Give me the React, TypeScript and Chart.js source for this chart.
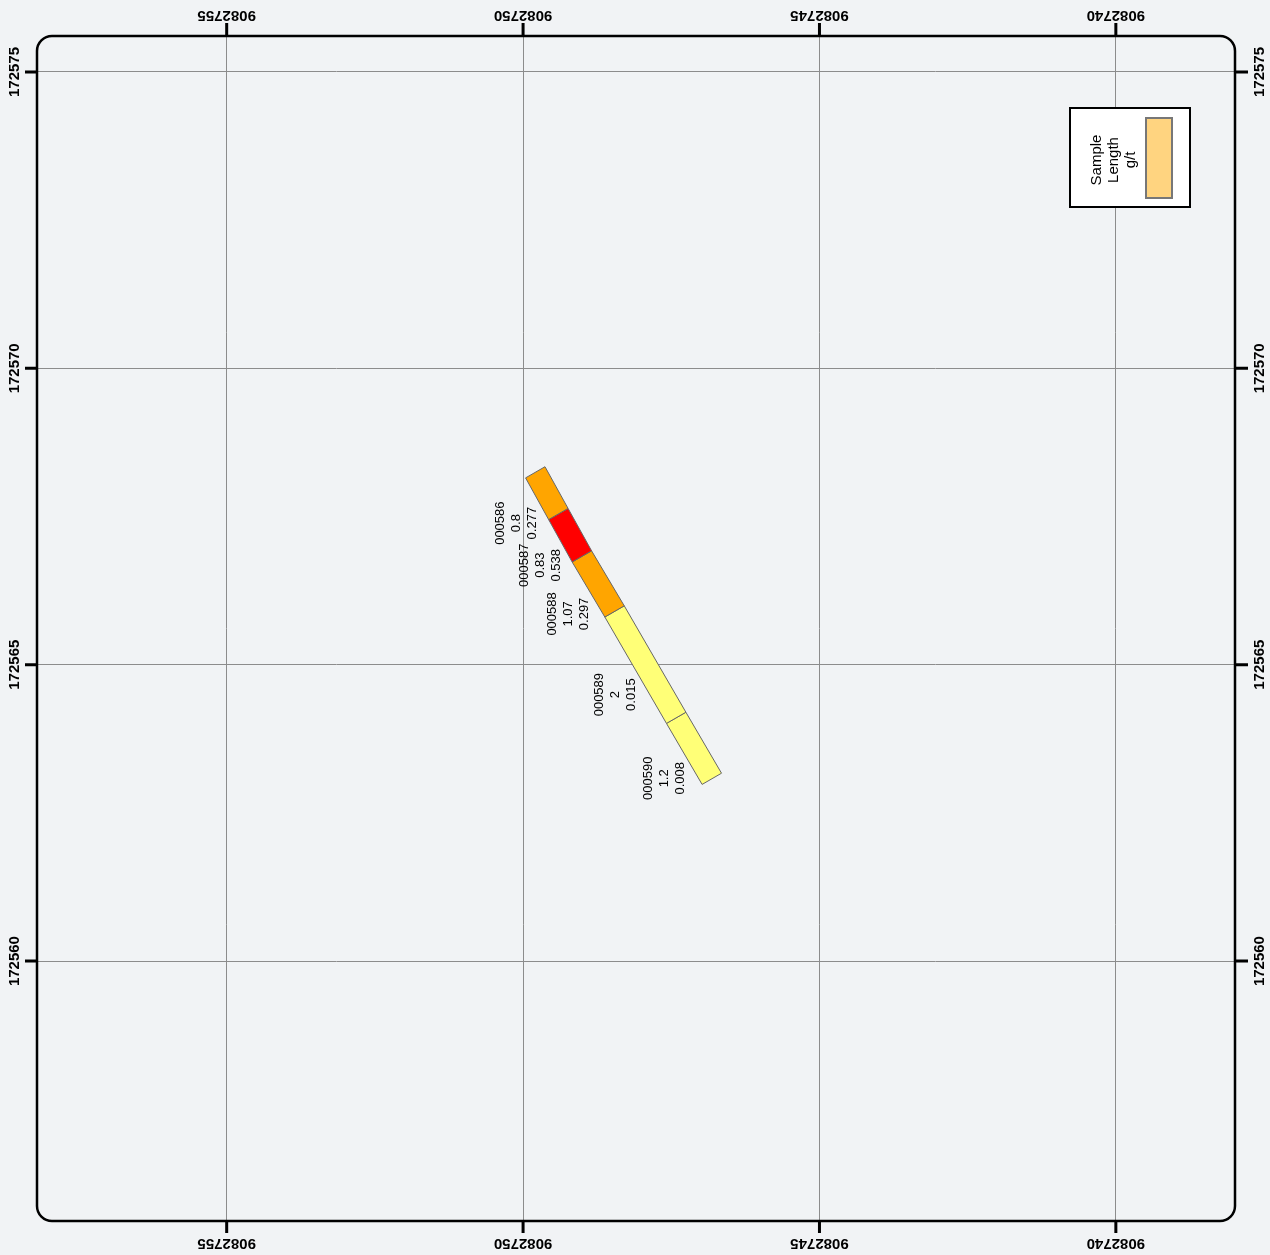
import React, { useEffect, useRef } from "react";
import { Chart, registerables } from "chart.js";

Chart.register(...registerables);

// ---- Data ----
const xTickValues = [9082755, 9082750, 9082745, 9082740];
const yTickValues = [172575, 172570, 172565, 172560];
const xRange = [9082737.99, 9082758.2];
const yRange = [172555.615, 172575.607];

const sampleIds = ["000586", "000587", "000588", "000589", "000590"];
const sampleLengths = ["0.8", "0.83", "1.07", "2", "1.2"];
const sampleGrades = [0.277, 0.538, 0.297, 0.015, 0.008];
// sample boundary points along the channel centreline (map coordinates)
const boundaryX = [9082749.794, 9082749.405, 9082749.008, 9082748.457, 9082747.417, 9082746.816];
const boundaryY = [172568.246, 172567.543, 172566.827, 172565.899, 172564.104, 172563.075];
const channelWidth = 0.378;

const legendLines = ["Sample", "Length", "g/t"];

function gradeColor(g: number): string {
  if (g >= 0.5) return "#ff0000";
  if (g >= 0.1) return "#ffa500";
  return "#ffff77";
}

function samplePolygon(i: number) {
  const x0 = boundaryX[i], y0 = boundaryY[i];
  const x1 = boundaryX[i + 1], y1 = boundaryY[i + 1];
  const dx = boundaryX[boundaryX.length - 1] - boundaryX[0];
  const dy = boundaryY[boundaryY.length - 1] - boundaryY[0];
  const len = Math.hypot(dx, dy);
  const h = channelWidth / 2;
  const px = (-dy / len) * h;
  const py = (dx / len) * h;
  return [
    { x: x0 + px, y: y0 + py },
    { x: x1 + px, y: y1 + py },
    { x: x1 - px, y: y1 - py },
    { x: x0 - px, y: y0 - py },
    { x: x0 + px, y: y0 + py },
  ];
}

const FONT = "'Liberation Sans', Arial, Helvetica, sans-serif";

const overlayPlugin = {
  id: "mapOverlay",
  afterDraw(chart: any) {
    const ctx: CanvasRenderingContext2D = chart.ctx;
    const { left, top, right, bottom } = chart.chartArea;
    const xs = chart.scales.x;
    const ys = chart.scales.y;
    ctx.save();

    // sample labels
    ctx.fillStyle = "#000";
    ctx.font = `13px ${FONT}`;
    ctx.textAlign = "center";
    ctx.textBaseline = "middle";
    for (let i = 0; i < sampleIds.length; i++) {
      const mx = (xs.getPixelForValue(boundaryX[i]) + xs.getPixelForValue(boundaryX[i + 1])) / 2;
      const my = (ys.getPixelForValue(boundaryY[i]) + ys.getPixelForValue(boundaryY[i + 1])) / 2;
      const lines = [sampleIds[i], sampleLengths[i], String(sampleGrades[i])];
      ctx.save();
      ctx.translate(mx - 30, my + 30);
      ctx.rotate(-Math.PI / 2);
      lines.forEach((t, k) => ctx.fillText(t, 0, (k - 1) * 16));
      ctx.restore();
    }

    // frame
    ctx.strokeStyle = "#000";
    ctx.lineWidth = 2.5;
    ctx.beginPath();
    (ctx as any).roundRect(left, top, right - left, bottom - top, 15);
    ctx.stroke();

    // ticks + labels
    ctx.lineWidth = 3;
    ctx.font = `bold 15px ${FONT}`;
    xTickValues.forEach((v) => {
      const x = xs.getPixelForValue(v);
      ctx.beginPath();
      ctx.moveTo(x, top - 13);
      ctx.lineTo(x, top);
      ctx.moveTo(x, bottom);
      ctx.lineTo(x, bottom + 12);
      ctx.stroke();
      [top - 21, bottom + 22].forEach((cy) => {
        ctx.save();
        ctx.translate(x, cy);
        ctx.rotate(Math.PI);
        ctx.fillText(String(v), 0, 0);
        ctx.restore();
      });
    });
    yTickValues.forEach((v) => {
      const y = ys.getPixelForValue(v);
      ctx.beginPath();
      ctx.moveTo(left - 12, y);
      ctx.lineTo(left, y);
      ctx.moveTo(right, y);
      ctx.lineTo(right + 13, y);
      ctx.stroke();
      [left - 22, right + 25].forEach((cx) => {
        ctx.save();
        ctx.translate(cx, y);
        ctx.rotate(-Math.PI / 2);
        ctx.fillText(String(v), 0, 0);
        ctx.restore();
      });
    });

    // legend
    const bx = right - 165;
    const by = top + 72;
    ctx.fillStyle = "#ffffff";
    ctx.fillRect(bx, by, 120, 99);
    ctx.strokeStyle = "#000";
    ctx.lineWidth = 2;
    ctx.strokeRect(bx, by, 120, 99);
    ctx.fillStyle = "#ffd480";
    ctx.fillRect(bx + 76, by + 10, 26, 80);
    ctx.strokeStyle = "#777";
    ctx.lineWidth = 2;
    ctx.strokeRect(bx + 76, by + 10, 26, 80);
    ctx.fillStyle = "#000";
    ctx.font = `15px ${FONT}`;
    legendLines.forEach((t, k) => {
      ctx.save();
      ctx.translate(bx + 27 + k * 17, by + 52);
      ctx.rotate(-Math.PI / 2);
      ctx.fillText(t, 0, 0);
      ctx.restore();
    });

    ctx.restore();
  },
};

export default function App() {
  const canvasRef = useRef<HTMLCanvasElement | null>(null);

  useEffect(() => {
    document.body.style.margin = "0";
    document.body.style.background = "#f1f3f5";
    const canvas = canvasRef.current;
    if (!canvas) return;
    const datasets = sampleIds.map((id, i) => ({
      label: id,
      data: samplePolygon(i),
      showLine: true,
      fill: "shape",
      backgroundColor: gradeColor(sampleGrades[i]),
      borderColor: "#666666",
      borderWidth: 1,
      pointRadius: 0,
      pointHoverRadius: 0,
      tension: 0,
    }));
    const chart = new Chart(canvas, {
      type: "scatter",
      data: { datasets: datasets as any },
      options: {
        animation: false,
        responsive: true,
        maintainAspectRatio: false,
        layout: { padding: { left: 37, top: 36, right: 35, bottom: 34 } },
        plugins: { legend: { display: false }, tooltip: { enabled: false } },
        events: [],
        scales: {
          x: {
            type: "linear",
            reverse: true,
            min: xRange[0],
            max: xRange[1],
            afterBuildTicks: (scale: any) => {
              scale.ticks = xTickValues.map((v) => ({ value: v }));
            },
            ticks: { display: false },
            grid: { color: "#8c8c8c", lineWidth: 1, drawTicks: false },
            border: { display: false },
          },
          y: {
            type: "linear",
            min: yRange[0],
            max: yRange[1],
            afterBuildTicks: (scale: any) => {
              scale.ticks = yTickValues.map((v) => ({ value: v }));
            },
            ticks: { display: false },
            grid: { color: "#8c8c8c", lineWidth: 1, drawTicks: false },
            border: { display: false },
          },
        },
      } as any,
      plugins: [overlayPlugin],
    });
    return () => chart.destroy();
  }, []);

  return (
    <div style={{ width: 1270, height: 1255, position: "relative", background: "#f1f3f5" }}>
      <canvas ref={canvasRef} />
    </div>
  );
}
